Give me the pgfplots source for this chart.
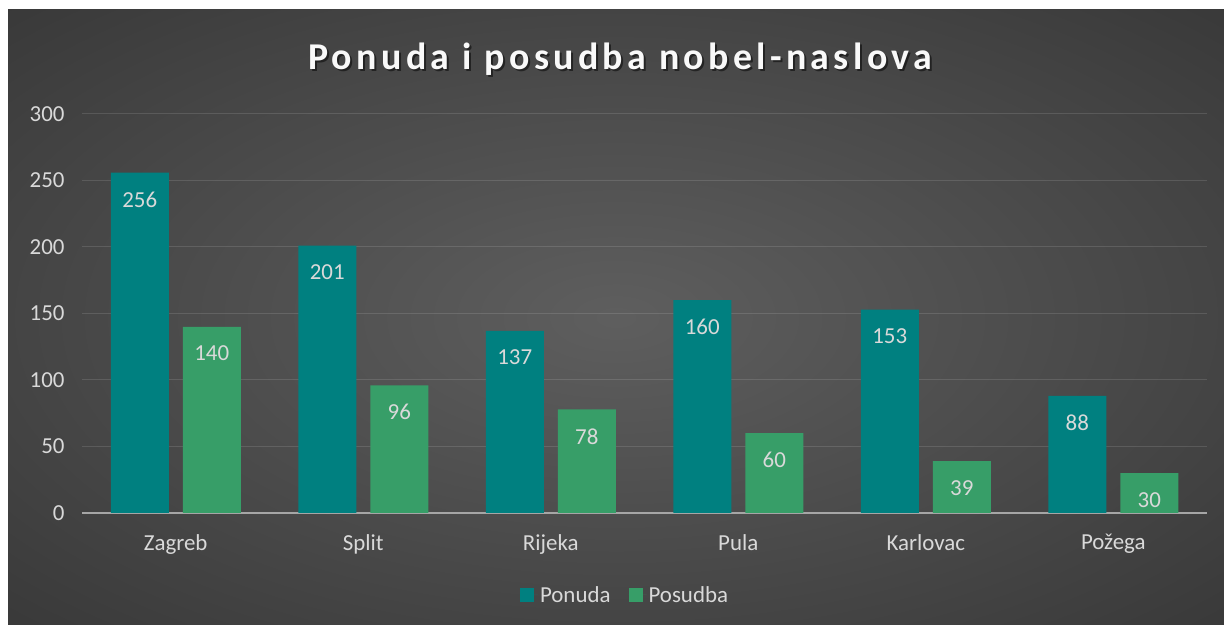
\documentclass[border=0pt]{standalone}
\usepackage{fontspec}
\setmainfont{Carlito}
\newfontfamily\titlefont[LetterSpace=11.5]{Carlito}
\usepackage{pgfplots}
\pgfplotsset{compat=1.18}
\definecolor{teal1}{HTML}{008080}
\definecolor{green1}{HTML}{379E68}
\definecolor{lbl}{HTML}{D9D9D9}
\pgfdeclareradialshading{bgshade}{\pgfpoint{0bp}{0bp}}{rgb(0bp)=(0.37,0.37,0.37); rgb(50bp)=(0.165,0.165,0.165); rgb(72bp)=(0.145,0.145,0.145)}
\begin{document}
\begin{tikzpicture}[x=1bp,y=1bp]
\useasboundingbox (0,0) rectangle (1224,625);
\fill[white] (0,0) rectangle (1224,625);
\shade[shading=bgshade] (8,0) rectangle (1224,615);
\node[text=black, opacity=0.5, font=\titlefont\bfseries\fontsize{38}{44}\selectfont] at (622,564) {Ponuda i posudba nobel-naslova};
\node[text=white!95!gray, font=\titlefont\bfseries\fontsize{38}{44}\selectfont] at (620,566) {Ponuda i posudba nobel-naslova};
\begin{axis}[
  at={(82bp,112bp)}, anchor=south west,
  scale only axis, width=1125bp, height=399bp,
  xmin=-0.5, xmax=5.5, ymin=0, ymax=300,
  ybar=14bp, bar width=58bp,
  axis x line*=bottom, axis y line*=left,
  x axis line style={draw=gray!70!white, line width=2bp},
  y axis line style={draw=none},
  ytick={0,50,...,300},
  ymajorgrids, grid style={draw=white, opacity=0.12, line width=1bp},
  xtick={0,...,5}, xticklabels={Zagreb,Split,Rijeka,Pula,Karlovac,Požega},
  major tick length=0pt,
  /pgf/number format/assume math mode=true,
  ticklabel style={font=\fontsize{23}{27}\selectfont, text=lbl},
  yticklabel style={xshift=-14bp},
  xticklabel style={yshift=-18bp},
  every axis plot/.append style={draw=none},
  nodes near coords,
  every node near coord/.append style={font=\fontsize{23}{27}\selectfont, text=lbl, anchor=north, inner sep=0pt, yshift=-19bp},
  legend style={at={(0.4827,-0.2055)}, anchor=center, draw=none, fill=none, text=lbl, font=\fontsize{23}{27}\selectfont, legend columns=2, /tikz/every even column/.append style={column sep=16bp}},
  legend image code/.code={\fill[#1] (0bp,-7bp) rectangle (14bp,7bp); \path (0bp,0bp) -- (18bp,0bp);},
  clip=false,
]
\addplot[fill=teal1] coordinates {(0,256) (1,201) (2,137) (3,160) (4,153) (5,88)};
\addplot[fill=green1] coordinates {(0,140) (1,96) (2,78) (3,60) (4,39) (5,30)};
\legend{Ponuda,Posudba}
\end{axis}
\end{tikzpicture}
\end{document}
